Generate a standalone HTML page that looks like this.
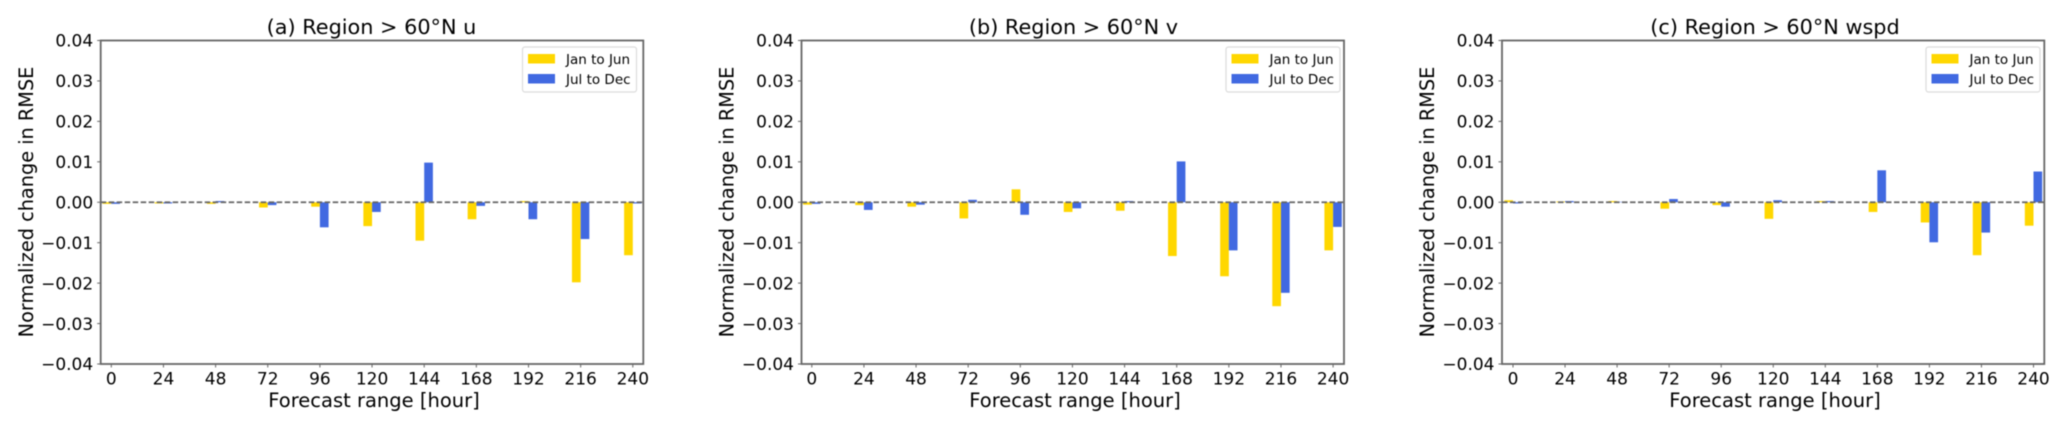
<!DOCTYPE html>
<html lang="en">
<head>
<meta charset="utf-8">
<title>Normalized change in RMSE, Region above 60°N</title>
<style>
html,body{margin:0;padding:0;background:#fff;width:2067px;height:428px;overflow:hidden}
svg{display:block;filter:blur(0.45px)}
text{font-family:"DejaVu Sans","Liberation Sans",sans-serif;fill:#000}
.title{font-size:20.8px;text-anchor:middle}
.axis-label-x{font-size:19.5px;text-anchor:middle}
.axis-label-y{font-size:19.3px;text-anchor:middle}
.tick{font-size:17px}
.legend-text{font-size:13.5px}
</style>
</head>
<body>
<svg id="figure" xmlns="http://www.w3.org/2000/svg" width="2067" height="428" viewBox="0 0 2067 428">
  <rect width="2067" height="428" fill="#fff"/>

  <g id="panel-a">
    <text class="title" x="371.5" y="34">(a) Region &gt; 60°N u</text>
    <text class="axis-label-x" x="374" y="407">Forecast range [hour]</text>
    <text class="axis-label-y" transform="translate(33,202) rotate(-90)">Normalized change in RMSE</text>
    <g id="plot-a"></g>
    <g transform="translate(522.5,47)">
      <rect x="0" y="0" width="114" height="45" rx="2.5" fill="#fff" stroke="#dcdcdc" stroke-width="1.2"/>
      <rect x="5.5" y="7" width="27" height="9.5" fill="#FFD700"/>
      <rect x="5.5" y="27" width="27" height="9.5" fill="#4169E1"/>
      <text class="legend-text" x="43.5" y="17">Jan to Jun</text>
      <text class="legend-text" x="43.5" y="37">Jul to Dec</text>
    </g>
  </g>

  <g id="panel-b">
    <text class="title" x="1073.5" y="34">(b) Region &gt; 60°N v</text>
    <text class="axis-label-x" x="1075" y="407">Forecast range [hour]</text>
    <text class="axis-label-y" transform="translate(733.5,202) rotate(-90)">Normalized change in RMSE</text>
    <g id="plot-b"></g>
    <g transform="translate(1226,47)">
      <rect x="0" y="0" width="114" height="45" rx="2.5" fill="#fff" stroke="#dcdcdc" stroke-width="1.2"/>
      <rect x="5.5" y="7" width="27" height="9.5" fill="#FFD700"/>
      <rect x="5.5" y="27" width="27" height="9.5" fill="#4169E1"/>
      <text class="legend-text" x="43.5" y="17">Jan to Jun</text>
      <text class="legend-text" x="43.5" y="37">Jul to Dec</text>
    </g>
  </g>

  <g id="panel-c">
    <text class="title" x="1775" y="34">(c) Region &gt; 60°N wspd</text>
    <text class="axis-label-x" x="1775" y="407">Forecast range [hour]</text>
    <text class="axis-label-y" transform="translate(1434,202) rotate(-90)">Normalized change in RMSE</text>
    <g id="plot-c"></g>
    <g transform="translate(1926,47)">
      <rect x="0" y="0" width="114" height="45" rx="2.5" fill="#fff" stroke="#dcdcdc" stroke-width="1.2"/>
      <rect x="5.5" y="7" width="27" height="9.5" fill="#FFD700"/>
      <rect x="5.5" y="27" width="27" height="9.5" fill="#4169E1"/>
      <text class="legend-text" x="43.5" y="17">Jan to Jun</text>
      <text class="legend-text" x="43.5" y="37">Jul to Dec</text>
    </g>
  </g>
</svg>

<script>
const forecastHours = [0, 24, 48, 72, 96, 120, 144, 168, 192, 216, 240];
const yTickValues = [0.04, 0.03, 0.02, 0.01, 0, -0.01, -0.02, -0.03, -0.04];

const panelAJan = [-0.0004, -0.0003, -0.0004, -0.0013, -0.0011, -0.0059, -0.0095, -0.0042, 0.0003, -0.0198, -0.0131];
const panelAJul = [-0.0004, -0.0003, 0.0003, -0.0007, -0.0062, -0.0024, 0.0098, -0.0009, -0.0042, -0.0091, -0.0003];

const panelBJan = [-0.0006, -0.0007, -0.0011, -0.0040, 0.0032, -0.0024, -0.0021, -0.0133, -0.0183, -0.0257, -0.0119];
const panelBJul = [-0.0004, -0.0019, -0.0006, 0.0006, -0.0031, -0.0015, 0.0003, 0.0101, -0.0119, -0.0224, -0.0061];

const panelCJan = [0.0005, 0.0002, 0.0003, -0.0016, -0.0007, -0.0041, 0.0003, -0.0024, -0.0050, -0.0131, -0.0058];
const panelCJul = [-0.0003, 0.0003, 0.0001, 0.0008, -0.0011, 0.0005, 0.0003, 0.0079, -0.0099, -0.0075, 0.0076];

const SVG_NS = 'http://www.w3.org/2000/svg';
const AXIS_COLOR = '#666';
const yTop = 40.5;
const yBottom = 364;

function make(parent, tag, attrs, content) {
  const el = document.createElementNS(SVG_NS, tag);
  for (const key in attrs) el.setAttribute(key, attrs[key]);
  if (content !== undefined) el.textContent = content;
  parent.appendChild(el);
  return el;
}

function yScale(v) {
  return yBottom + (v + 0.04) / 0.08 * (yTop - yBottom);
}

function formatTick(v) {
  const s = Math.abs(v).toFixed(2);
  return v < 0 ? '\u2212' + s : s;
}

function drawPanel(id, prefix, left, right, x0, step, jan, jul) {
  const root = document.getElementById(id);
  const xScale = function (h) { return x0 + h / 24 * step; };
  const barWidth = step / 6;

  forecastHours.forEach(function (h, i) {
    const xc = xScale(h);

    const janRect = make(root, 'rect', {
      x: xc - barWidth,
      y: Math.min(yScale(0), yScale(jan[i])),
      width: barWidth,
      height: Math.abs(yScale(jan[i]) - yScale(0)),
      fill: '#FFD700'
    });
    
    

    const julRect = make(root, 'rect', {
      x: xc,
      y: Math.min(yScale(0), yScale(jul[i])),
      width: barWidth,
      height: Math.abs(yScale(jul[i]) - yScale(0)),
      fill: '#4169E1'
    });
    
    

    const tickMark = make(root, 'line', {
      x1: xc, x2: xc, y1: yBottom, y2: yBottom + 3.5,
      stroke: AXIS_COLOR, 'stroke-width': 1
    });
    
    

    const tickLabel = make(root, 'text', {
      class: 'tick', x: xc, y: 384.5, 'text-anchor': 'middle'
    }, String(h));
    
    
  });

  yTickValues.forEach(function (v) {
    const y = yScale(v);

    const tickMark = make(root, 'line', {
      x1: left - 3.5, x2: left, y1: y, y2: y,
      stroke: AXIS_COLOR, 'stroke-width': 1
    });
    
    

    const tickLabel = make(root, 'text', {
      class: 'tick', x: left - 7.5, y: y + 6.2, 'text-anchor': 'end'
    }, formatTick(v));
    
    
  });

  const zeroLine = make(root, 'line', {
    x1: left, x2: right, y1: yScale(0), y2: yScale(0),
    stroke: '#666', 'stroke-width': 1.8, 'stroke-dasharray': '5.5 2.5'
  });
  
  

  const frame = make(root, 'rect', {
    x: left, y: yTop, width: right - left, height: yBottom - yTop,
    fill: 'none', stroke: AXIS_COLOR, 'stroke-width': 1.8
  });
  
  
}

drawPanel('plot-a', 'panel-a', 100.7, 643.3, 111.3, 52.15, panelAJan, panelAJul);
drawPanel('plot-b', 'panel-b', 801.5, 1344, 811.8, 52.13, panelBJan, panelBJul);
drawPanel('plot-c', 'panel-c', 1502, 2044.3, 1513, 52.05, panelCJan, panelCJul);
</script>
</body>
</html>
